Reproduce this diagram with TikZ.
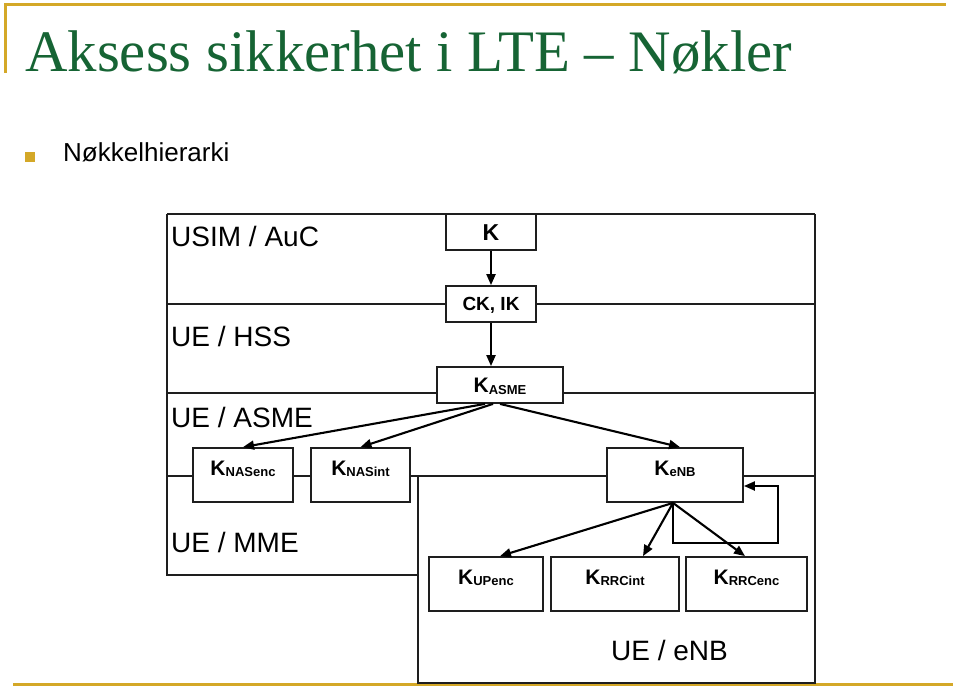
\documentclass[tikz,border=0pt]{standalone}
\usepackage{fontspec}
\setmainfont{Liberation Sans}
\newfontfamily\titlefont{Liberation Serif}
\usetikzlibrary{arrows.meta,calc}
\definecolor{gold}{RGB}{212,168,40}
\definecolor{titlegreen}{RGB}{22,100,52}
\definecolor{framegray}{RGB}{30,30,30}
\newcommand\keysub[1]{K\raisebox{-1.5pt}{\fontsize{13}{14}\selectfont #1}}
\begin{document}
\begin{tikzpicture}[x=1pt,y=-1pt,
  frameline/.style={draw=framegray,line width=1.8pt},
  goldline/.style={draw=gold,line width=2.8pt},
  keybox/.style={draw=framegray,fill=white,line width=1.8pt,inner sep=0pt,
    font=\bfseries\fontsize{21}{23}\selectfont},
  topbox/.style={keybox,minimum height=36pt,text height=15pt,text depth=0pt},
  lowbox/.style={keybox,minimum height=54pt,text height=27pt,text depth=27pt},
  arr/.style={draw=black,line width=2.1pt,-{Triangle[length=11pt,width=9pt]}},
  region/.style={anchor=base west,inner sep=0pt,font=\fontsize{28}{30}\selectfont}]
\useasboundingbox (0,0) rectangle (960,687);

% slide decoration
\draw[goldline] (4,4.5) -- (946,4.5);
\draw[goldline] (5.3,4) -- (5.3,73);
\draw[goldline] (13,684.8) -- (953,684.8);

\node[anchor=base west,inner sep=0pt,text=titlegreen,
  font=\titlefont\fontsize{58.8}{60}\selectfont] (title) at (25,72)
  {Aksess sikkerhet i LTE – Nøkler};
\node[fill=gold,minimum size=10pt,inner sep=0pt] (bullet) at (30,157) {};
\node[anchor=base west,inner sep=0pt,font=\fontsize{26}{28}\selectfont] (sub) at (63,162) {Nøkkelhierarki};

% region frames
\draw[frameline] (167,214) -- (815,214);
\draw[frameline] (167,214) -- (167,575) -- (418,575);
\draw[frameline] (815,214) -- (815,683) -- (418,683) -- (418,476);
\draw[frameline] (167,304) -- (815,304);
\draw[frameline] (167,393) -- (815,393);
\draw[frameline] (167,476) -- (815,476);

% region labels
\node[region] (usim) at (171,246) {USIM / AuC};
\node[region] (hss) at (171,346) {UE / HSS};
\node[region] (asme) at (171,427) {UE / ASME};
\node[region] (mme) at (171,552) {UE / MME};
\node[region] (enbreg) at (611,660) {UE / eNB};

% key boxes
\node[topbox,minimum width=90pt,font=\bfseries\fontsize{23}{25}\selectfont,text height=16.5pt] (k) at (491,232) {K};
\node[topbox,minimum width=90pt,font=\bfseries\fontsize{19}{21}\selectfont,text height=13.6pt] (ckik) at (491,304) {CK, IK};
\node[topbox,minimum width=126pt] (kasme) at (500,385) {\keysub{ASME}};

\node[lowbox,minimum width=100pt] (knasenc) at (243,475) {\keysub{NASenc}};
\node[lowbox,minimum width=99pt] (knasint) at (360.5,475) {\keysub{NASint}};
\node[lowbox,minimum width=136pt] (kenb) at (675,475) {\keysub{eNB}};
\node[lowbox,minimum width=114pt] (kupenc) at (486,584) {\keysub{UPenc}};
\node[lowbox,minimum width=128pt] (krrcint) at (615,584) {\keysub{RRCint}};
\node[lowbox,minimum width=121pt] (krrcenc) at (746.5,584) {\keysub{RRCenc}};

% derivation arrows
\draw[arr] (k.south) -- (ckik.north);
\draw[arr] (ckik.south) -- (ckik.south |- kasme.north);
\draw[arr] ($(kasme.south)+(-15,0)$) -- (knasenc.north);
\draw[arr] ($(kasme.south)+(-7,0)$) -- (knasint.north);
\draw[arr] (kasme.south) -- ($(kenb.north)+(5,0)$);
\draw[arr] ($(kenb.south)+(-2,0)$) -- ($(kupenc.north)+(14,0)$);
\draw[arr] ($(kenb.south)+(-2,0)$) -- ($(krrcint.north)+(28,0)$);
\draw[arr] ($(kenb.south)+(-2,0)$) -- ($(krrcenc.north)+(-1.5,0)$);
\draw[arr] ($(kenb.south)+(-2,0)$) |- ($(kenb.east)+(34,68)$) |- ($(kenb.east)+(0,11)$);
\end{tikzpicture}
\end{document}
